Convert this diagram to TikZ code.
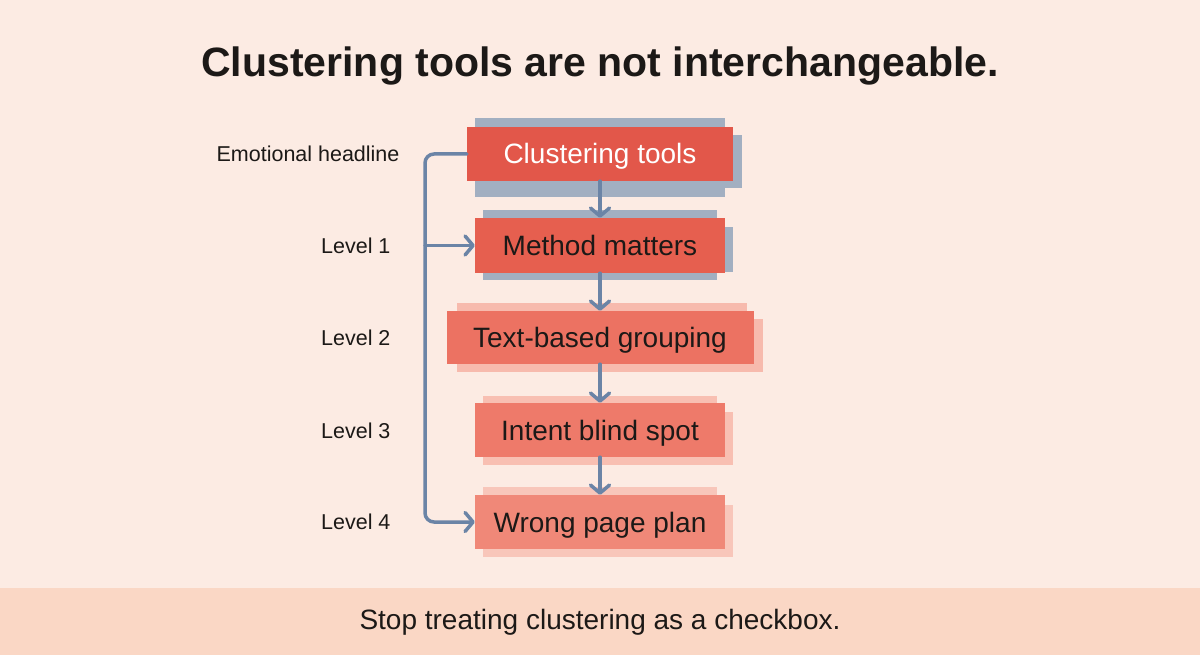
\documentclass[tikz,border=0pt]{standalone}
\usepackage{fontspec}
\setmainfont{Liberation Sans}
\usetikzlibrary{arrows.meta}

\definecolor{bgpeach}{HTML}{FCEBE3}
\definecolor{bandpeach}{HTML}{FAD7C5}
\definecolor{inkdark}{HTML}{1C1917}
\definecolor{linkblue}{HTML}{6B84A6}
\definecolor{shadeblue}{HTML}{A2AFC1}
\definecolor{shadepink}{HTML}{F7BAAD}
\definecolor{redA}{HTML}{E2574A}
\definecolor{redB}{HTML}{E65F4F}
\definecolor{redC}{HTML}{EC7262}
\definecolor{redD}{HTML}{EE7A6A}
\definecolor{redE}{HTML}{F08878}

\tikzset{
  box/.style={rectangle, anchor=center, minimum width=250pt, minimum height=54pt,
    inner sep=0pt, text height=20pt, text depth=0pt, text=inkdark,
    font=\fontsize{28}{33}\selectfont},
  lvl/.style={anchor=east, text=inkdark, font=\fontsize{21.5}{26}\selectfont},
  link/.style={draw=linkblue, line width=3.5pt, line cap=round, line join=round,
    -{Straight Barb[length=8pt,width=19pt,line width=3.5pt,round]}}
}

\begin{document}
\begin{tikzpicture}[x=1pt,y=-1pt]
    \useasboundingbox[fill=bgpeach] (0,0) rectangle (1200,655);
    \fill[bandpeach] (0,588) rectangle (1200,655);

    \node[text=inkdark, font=\fontsize{41}{48}\selectfont\bfseries] (title) at (600,66) {Clustering tools are not interchangeable.};
    \node[text=inkdark, font=\fontsize{28}{33}\selectfont] (footer) at (600,622) {Stop treating clustering as a checkbox.};

    % shadows behind the boxes
    \fill[shadeblue] (475,118) rectangle (725,197);
    \fill[shadeblue] (475,135) rectangle (742,188);
    \fill[shadeblue] (483,210) rectangle (717,280);
    \fill[shadeblue] (483,227) rectangle (733,272);
    \fill[shadepink] (457,303) rectangle (747,364);
    \fill[shadepink] (457,319) rectangle (763,372);
    \fill[shadepink!90!bgpeach] (483,396) rectangle (717,460);
    \fill[shadepink!90!bgpeach] (483,412) rectangle (733,465);
    \fill[shadepink!75!bgpeach] (483,487) rectangle (717,550);
    \fill[shadepink!75!bgpeach] (483,505) rectangle (733,557);

    \node[box, fill=redA, text=white, minimum width=266pt] (ct) at (600,154) {Clustering tools};
    \node[box, fill=redB, minimum height=55pt] (mm) at (600,245.5) {Method matters};
    \node[box, fill=redC, minimum width=307pt, minimum height=53pt] (tg) at (600,337.5) {Text-based grouping};
    \node[box, fill=redD] (ib) at (600,430) {Intent blind spot};
    \node[box, fill=redE] (wp) at (600,522) {Wrong page plan};

    \node[lvl] (l0) at (403,154) {Emotional headline};
    \node[lvl] (l1) at (394,246) {Level 1};
    \node[lvl] (l2) at (394,338) {Level 2};
    \node[lvl] (l3) at (394,431) {Level 3};
    \node[lvl] (l4) at (394,522) {Level 4};

    \coordinate (rail) at (425,154);

    \path [link] (ct) edge (mm);
    \path [link] (mm) edge (tg);
    \path [link] (tg) edge (ib);
    \path [link] (ib) edge (wp);

    \draw [link, rounded corners=9pt] (ct.west) -| (rail |- wp.west) -- (wp.west);
    \draw [link] (rail |- mm.west) -- (mm.west);

\end{tikzpicture}
\end{document}
